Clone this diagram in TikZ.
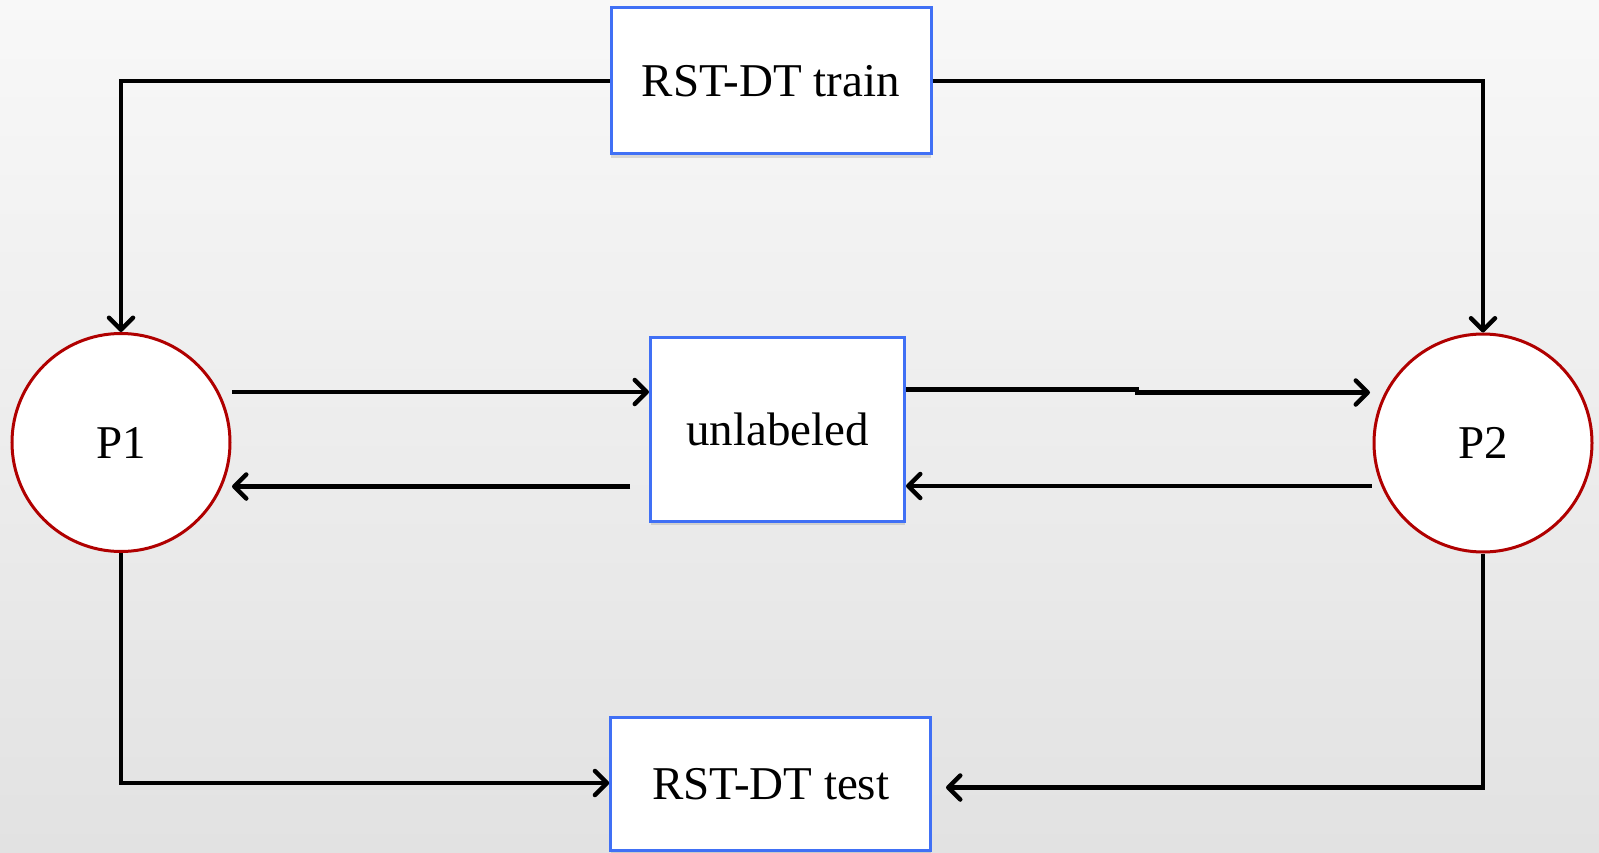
\documentclass[tikz,border=0pt]{standalone}
\usepackage{fontspec}
\setmainfont{Liberation Serif}
\usetikzlibrary{arrows.meta,shadows,calc}
\definecolor{boxblue}{RGB}{64,112,245}
\definecolor{circred}{RGB}{176,0,0}
\definecolor{bgtop}{RGB}{248,248,248}
\definecolor{bgbot}{RGB}{226,226,226}
\tikzset{
  dbox/.style={draw=boxblue, line width=3pt, fill=white, rectangle, inner sep=0pt,
    font=\fontsize{47}{56}\selectfont,
    drop shadow={opacity=0.25, shadow xshift=0pt, shadow yshift=-4pt}},
  proc/.style={draw=circred, line width=3pt, fill=white, circle, inner sep=0pt,
    minimum size=218pt, font=\fontsize{47}{56}\selectfont},
  arr/.style={line width=4.5pt, -{Straight Barb[length=12pt,width=24pt,round]}},
  ln/.style={line width=4.5pt}
}
\begin{document}
\begin{tikzpicture}[x=1pt,y=-1pt]
\shade[top color=bgtop, bottom color=bgbot] (0,0) rectangle (1599,853);
\useasboundingbox (0,0) rectangle (1599,853);

\node[dbox, minimum width=320pt, minimum height=146pt] (train) at (771,81) {RST-DT train};
\node[dbox, minimum width=254pt, minimum height=184pt] (unl) at (777.5,429) {unlabeled};
\node[dbox, minimum width=320pt, minimum height=133pt] (test) at (770.7,784) {RST-DT test};
\node[proc] (P1) at (121,442.5) {P1};
\node[proc] (P2) at (1483,443) {P2};

% top connections
\draw[arr] (train.west) -| (P1.north);
\draw[arr] (train.east) -| (P2.north);

% middle connections
\coordinate (a1) at (232,392);
\draw[arr] (a1) -- (a1 -| unl.west);
\coordinate (b1) at (630,486.5);
\coordinate (b2) at (232,486.5);
\draw[arr] (b1) -- (b2);
\coordinate (c1) at (1137,389.6);
\coordinate (c2) at (1137,392.5);
\coordinate (c3) at (1370,392.5);
\draw[arr] (c1 -| unl.east) -- (c1) -- (c2) -- (c3);
\coordinate (d1) at (1371.7,486);
\draw[arr] (d1) -- (d1 -| unl.east);

% bottom connections
\coordinate (e1) at (121,783);
\draw[arr] (P1.south) -- (e1) -- (e1 -| test.west);
\coordinate (f1) at (1483,787.5);
\coordinate (f2) at (946,787.5);
\draw[arr] (P2.south) -- (f1) -- (f2);
\end{tikzpicture}
\end{document}
